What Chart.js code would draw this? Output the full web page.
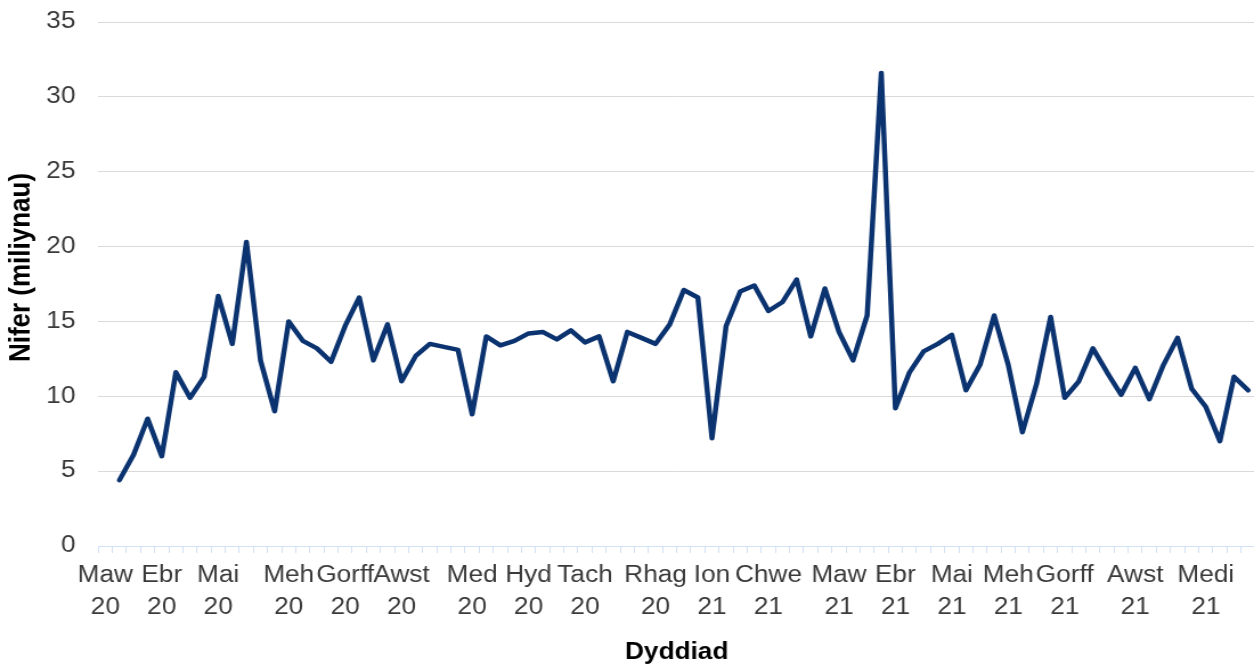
<!DOCTYPE html>
<html>
<head>
<meta charset="utf-8">
<script src="https://cdn.jsdelivr.net/npm/chart.js@4.4.1/dist/chart.umd.min.js"></script>
<style>
html,body{margin:0;padding:0;background:#ffffff;overflow:hidden;width:1254px;height:668px;}
#wrap{position:absolute;left:0;top:0;width:1101px;height:668px;transform:scaleX(1.14);transform-origin:0 0;}
canvas{display:block;}
</style>
</head>
<body>
<div id="wrap"><canvas id="c" width="1101" height="668"></canvas></div>
<script>
// Category axis: 82 weekly slots, month labels at the listed slots
const categoryCount = 82;
const monthTickLabels = [
  ["Maw","20"],["Ebr","20"],["Mai","20"],["Meh","20"],["Gorff","20"],["Awst","20"],
  ["Med","20"],["Hyd","20"],["Tach","20"],["Rhag","20"],["Ion","21"],["Chwe","21"],
  ["Maw","21"],["Ebr","21"],["Mai","21"],["Meh","21"],["Gorff","21"],["Awst","21"],["Medi","21"]
];
const monthTickSlots = [0,4,8,13,17,21,26,30,34,39,43,47,52,56,60,64,68,73,78];

// Weekly values (millions); first slot has no value
const weeklyValues = [
  null,
  4.4, 6.1, 8.5, 6.0, 11.6, 9.9, 11.3, 16.7, 13.5, 20.3,
  12.4, 9.0, 15.0, 13.7, 13.2, 12.3, 14.7, 16.6, 12.4, 14.8,
  11.0, 12.7, 13.5, 13.3, 13.1, 8.8, 14.0, 13.4, 13.7, 14.2,
  14.3, 13.8, 14.4, 13.6, 14.0, 11.0, 14.3, 13.9, 13.5, 14.8,
  17.1, 16.6, 7.2, 14.7, 17.0, 17.4, 15.7, 16.3, 17.8, 14.0,
  17.2, 14.3, 12.4, 15.4, 31.6, 9.2, 11.6, 13.0, 13.5, 14.1,
  10.4, 12.1, 15.4, 12.1, 7.6, 10.8, 15.3, 9.9, 11.0, 13.2,
  11.6, 10.1, 11.9, 9.8, 12.1, 13.9, 10.5, 9.3, 7.0, 11.3,
  10.4
];

const yTickValues = [0, 5, 10, 15, 20, 25, 30, 35];
const yAxisTitle = 'Nifer (miliynau)';
const xAxisTitle = 'Dyddiad';

const categories = [];
for (let i = 0; i < categoryCount; i++) categories.push('');
monthTickSlots.forEach((slot, k) => { categories[slot] = monthTickLabels[k]; });

const FONT = "'Liberation Sans', Arial, sans-serif";

// y-axis title drawn beside the axis, slightly above the plot's middle as in the source
const yTitlePlugin = {
  id: 'yTitle',
  afterDraw(chart) {
    const ctx = chart.ctx;
    const area = chart.chartArea;
    ctx.save();
    ctx.translate(18.4, (area.top + area.bottom) / 2 - 16.5);
    ctx.rotate(-Math.PI / 2);
    ctx.font = "bold 26px " + FONT;
    ctx.fillStyle = '#000000';
    ctx.textAlign = 'center';
    ctx.textBaseline = 'middle';
    ctx.fillText(yAxisTitle, 0, 0);
    ctx.restore();
  }
};

new Chart(document.getElementById('c'), {
  type: 'line',
  data: {
    labels: categories,
    datasets: [{
      data: weeklyValues,
      borderColor: '#0b3370',
      borderWidth: 4.5,
      pointRadius: 0,
      tension: 0,
      fill: false,
      borderJoinStyle: 'round',
      borderCapStyle: 'round'
    }]
  },
  plugins: [yTitlePlugin],
  options: {
    responsive: false,
    animation: false,
    devicePixelRatio: 1,
    layout: { padding: { top: 22, right: 0, bottom: 0, left: 0 } },
    plugins: { legend: { display: false }, tooltip: { enabled: false } },
    scales: {
      x: {
        type: 'category',
        offset: true,
        grid: { offset: true, drawOnChartArea: false, drawTicks: true, tickLength: 7, color: '#d3e1f5', lineWidth: 1 },
        border: { display: true, color: '#d3e1f5', width: 1 },
        ticks: {
          autoSkip: false, maxRotation: 0, minRotation: 0, padding: 7,
          color: '#3a3a3a', font: { family: FONT, size: 23, lineHeight: 1.38 }
        },
        title: {
          display: true, text: xAxisTitle, color: '#000000',
          font: { family: FONT, size: 23, weight: 'bold', lineHeight: 1.2 },
          padding: { top: 0, bottom: 2 }
        },
        afterFit: s => { s.height = 122; s.paddingLeft = 0; s.paddingRight = 0; }
      },
      y: {
        min: 0, max: 35,
        afterBuildTicks: s => { s.ticks = yTickValues.map(v => ({ value: v })); },
        ticks: { padding: 20, color: '#3a3a3a', font: { family: FONT, size: 23 } },
        grid: {
          drawTicks: false, lineWidth: 1,
          color: c => (c.tick && c.tick.value === 0) ? 'rgba(0,0,0,0)' : '#d9d9d9'
        },
        border: { display: false },
        title: { display: false },
        afterFit: s => { s.width = 86.2; s.paddingTop = 0; s.paddingBottom = 0; }
      }
    }
  }
});
</script>
</body>
</html>
